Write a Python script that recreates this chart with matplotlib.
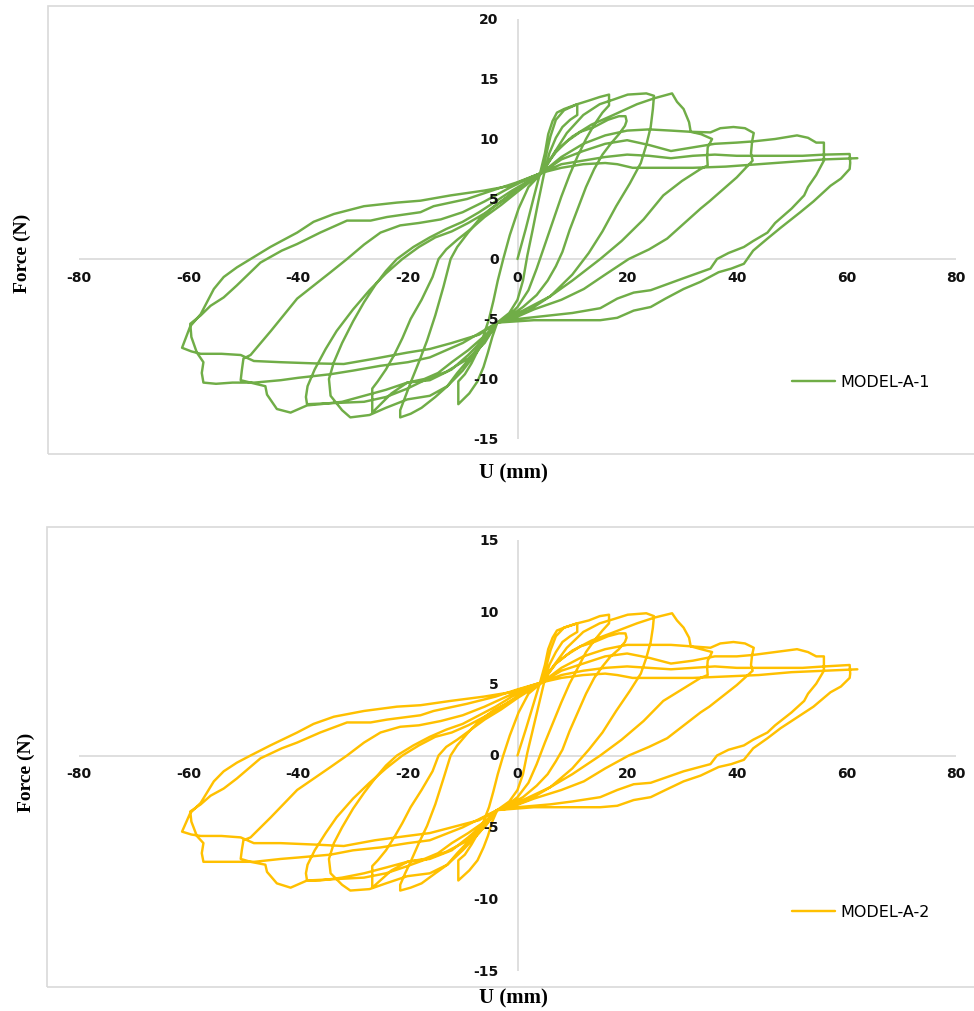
import matplotlib
matplotlib.use("Agg")
import matplotlib.pyplot as plt
from matplotlib.patches import Rectangle

# ---------------- data: (U mm, Force N) points of each loading cycle ----------------
A1_CYCLE_1 = [(0,0),(1.5,2.5),(3.0,5.2),(4.2,7.3),(5.0,8.8),(5.6,10.4),(6.4,11.5),(7.2,12.2),(8.5,12.5),(10.9,12.9),
              (10.9,12.0),(9.6,11.6),(8.2,11.0),(7.0,10.1),(5.8,8.8),(4.8,7.0),(3.8,4.8),(2.8,2.5),(1.8,0.3),(1.0,-1.8),
              (0.0,-3.4),(-1.5,-4.5),(-3.7,-5.3),(-4.6,-6.5),(-5.4,-7.8),(-6.2,-9.0),(-7.3,-10.2),(-8.8,-11.2),(-10.8,-12.1),
              (-10.8,-10.2),(-9.6,-9.6),(-8.4,-8.7),(-7.2,-7.6),(-6.2,-6.4),(-5.2,-5.0),(-4.4,-3.5),(-3.6,-1.8),(-2.6,0.0),
              (-1.4,2.0),(0.2,4.2),(2.0,6.0),(4.5,7.2)]
A1_CYCLE_2 = [(4.5,7.2),(5.2,8.6),(6.0,10.2),(7.0,11.6),(8.5,12.4),(10.9,12.9),(13.0,13.2),(15.0,13.5),(16.7,13.7),
              (16.7,12.8),(15.5,12.2),(14.0,11.2),(12.5,10.0),(11.0,8.6),(9.5,7.0),(8.0,5.2),(6.5,3.2),(5.0,1.2),(3.5,-0.8),
              (2.0,-2.6),(0.0,-4.0),(-2.0,-4.9),(-3.7,-5.3),(-5.5,-6.5),(-7.5,-7.6),(-9.5,-8.7),(-11.0,-9.5),(-12.8,-10.6),
              (-15.0,-11.5),(-17.5,-12.4),(-19.5,-12.9),(-21.4,-13.2),(-21.4,-12.6),(-20.5,-11.5),(-19.5,-10.3),(-18.0,-8.6),
              (-16.5,-6.8),(-15.0,-4.7),(-13.5,-2.3),(-12.2,0.0),(-11.0,1.0),(-9.0,2.2),(-7.0,3.3),(-4.5,4.3),(-2.0,5.1),
              (0.5,5.9),(2.5,6.6),(4.5,7.2)]
A1_CYCLE_3 = [(4.5,7.2),(5.5,8.0),(7.0,8.9),(9.0,9.8),(11.5,10.6),(14.0,11.0),(16.5,11.6),(18.5,11.9),(19.7,11.9),
              (19.9,11.5),(19.6,11.1),(18.5,10.4),(17.0,9.6),(15.5,8.7),(14.0,7.5),(12.5,6.0),(11.0,4.2),(9.5,2.4),(8.2,0.6),
              (7.0,-0.6),(5.5,-1.8),(3.5,-3.0),(1.0,-4.0),(-1.5,-4.8),(-3.7,-5.3),(-6.0,-6.4),(-9.0,-7.6),(-12.0,-8.6),
              (-14.5,-9.5),(-17.0,-10.0),(-20.1,-10.3),(-23.0,-11.2),(-26.5,-12.8),(-26.5,-10.8),(-25.5,-10.2),(-24.0,-9.2),
              (-22.5,-8.0),(-21.0,-6.6),(-19.5,-5.0),(-17.5,-3.4),(-15.5,-1.5),(-14.4,0.0),(-13.0,0.8),(-11.0,1.6),(-8.5,2.5),
              (-6.0,3.5),(-3.0,4.5),(0.0,5.6),(2.5,6.5),(4.5,7.2)]
A1_CYCLE_4 = [(4.5,7.2),(6.5,8.7),(9.0,10.5),(12.0,12.0),(15.0,12.9),(17.6,13.3),(20.1,13.7),(23.5,13.8),(24.9,13.6),
              (24.7,12.5),(24.3,11.0),(23.5,9.5),(22.5,8.0),(20.5,6.3),(18.0,4.4),(15.5,2.3),(13.0,0.5),(10.0,-1.3),(6.0,-3.1),
              (2.0,-4.3),(-1.0,-4.9),(-3.7,-5.3),(-7.0,-7.5),(-10.0,-9.3),(-12.8,-10.6),(-16.0,-11.4),(-20.1,-11.7),(-24.0,-12.4),
              (-27.0,-13.0),(-30.5,-13.2),(-32.0,-12.6),(-34.1,-11.4),(-34.4,-10.0),(-33.5,-8.6),(-32.0,-7.0),(-30.0,-5.2),
              (-28.0,-3.6),(-26.0,-2.2),(-24.0,-1.0),(-22.0,0.0),(-19.0,1.0),(-16.0,1.8),(-13.0,2.5),(-10.0,3.1),(-7.0,3.9),
              (-4.0,4.8),(-1.0,5.7),(2.0,6.5),(4.5,7.2)]
A1_CYCLE_5 = [(4.5,7.2),(7.0,9.0),(10.0,10.2),(13.5,11.2),(17.0,11.9),(21.8,12.9),(25.0,13.4),(28.2,13.8),(29.1,13.1),
              (30.3,12.5),(31.3,11.4),(31.6,10.6),(35.2,10.55),(37.0,10.9),(39.4,11.0),(41.5,10.9),(43.1,10.5),(42.8,9.8),
              (42.6,8.8),(42.9,8.2),(40.0,6.8),(37.0,5.6),(35.0,4.8),(33.4,4.2),(30.0,2.8),(27.3,1.7),(24.0,0.8),(20.3,0.0),
              (16.0,-1.3),(12.1,-2.5),(8.0,-3.4),(3.0,-4.2),(-0.5,-4.9),(-3.7,-5.3),(-6.0,-6.6),(-9.0,-8.0),(-12.0,-9.2),
              (-16.0,-10.1),(-20.1,-10.3),(-24.0,-10.9),(-28.0,-11.4),(-32.0,-11.9),(-36.0,-12.1),(-38.4,-12.2),(-41.4,-12.8),
              (-43.9,-12.5),(-45.7,-11.3),(-46.0,-10.6),(-48.7,-10.3),(-50.5,-10.1),(-50.3,-9.3),(-50.0,-8.3),(-48.7,-8.0),
              (-45.0,-6.0),(-40.2,-3.3),(-34.1,-1.1),(-31.1,0.0),(-28.0,1.2),(-25.0,2.2),(-21.4,2.8),(-18.0,3.0),(-14.0,3.3),
              (-10.0,3.9),(-6.0,4.8),(-2.0,5.8),(1.5,6.6),(4.5,7.2)]
A1_CYCLE_6 = [(4.5,7.2),(8.0,8.5),(12.0,9.6),(16.0,10.3),(20.0,10.7),(24.0,10.8),(28.0,10.7),(31.6,10.6),(33.5,10.4),
              (35.5,10.0),(34.7,9.3),(34.6,8.5),(34.7,7.8),(33.4,7.5),(30.0,6.5),(26.6,5.3),(23.0,3.3),(19.0,1.5),(15.1,0.0),
              (10.0,-1.8),(6.0,-3.1),(1.0,-4.3),(-3.7,-5.3),(-6.0,-7.0),(-9.0,-8.3),(-13.0,-9.4),(-16.5,-10.0),(-20.1,-10.8),
              (-24.0,-11.5),(-28.0,-11.9),(-33.0,-12.0),(-38.4,-12.1),(-38.6,-11.5),(-38.3,-10.6),(-37.0,-9.2),(-35.0,-7.5),
              (-33.0,-6.0),(-30.0,-4.2),(-27.0,-2.6),(-24.0,-1.2),(-21.0,0.0),(-18.0,1.0),(-15.0,1.8),(-12.0,2.3),(-9.0,3.0),
              (-6.0,3.8),(-3.0,4.8),(0.0,5.8),(2.5,6.6),(4.5,7.2)]
A1_CYCLE_7 = [(4.5,7.2),(8.0,8.3),(12.0,9.0),(16.0,9.6),(20.0,9.9),(24.0,9.5),(28.0,9.0),(32.0,9.3),(36.0,9.6),(40.0,9.7),
              (43.0,9.8),(47.0,10.0),(51.0,10.3),(53.0,10.1),(54.5,9.7),(55.9,9.7),(55.9,8.9),(55.9,8.2),(54.5,7.0),(53.0,6.0),
              (52.3,5.3),(50.0,4.2),(47.0,3.0),(45.6,2.2),(43.0,1.5),(41.3,1.0),(38.5,0.5),(36.4,0.0),(35.2,-0.8),(30.3,-1.6),
              (24.3,-2.6),(21.2,-2.8),(18.2,-3.3),(15.1,-4.1),(10.0,-4.5),(6.0,-4.7),(0.0,-5.0),(-3.7,-5.3),(-10.0,-7.0),
              (-16.0,-8.2),(-20.0,-8.6),(-25.0,-8.9),(-30.0,-9.3),(-34.1,-9.6),(-40.0,-9.9),(-43.2,-10.1),(-48.0,-10.3),
              (-52.0,-10.3),(-55.0,-10.4),(-57.3,-10.3),(-57.6,-9.5),(-57.3,-8.6),(-58.5,-7.8),(-59.5,-6.5),(-59.7,-5.4),
              (-57.8,-4.7),(-56.0,-3.9),(-53.6,-3.2),(-51.2,-2.2),(-46.9,-0.3),(-43.0,0.7),(-40.2,1.25),(-36.0,2.2),(-31.1,3.2),
              (-26.8,3.2),(-23.8,3.5),(-17.7,3.9),(-15.3,4.4),(-9.2,5.0),(-4.0,5.8),(0.0,6.4),(4.5,7.2)]
A1_CYCLE_8 = [(4.5,7.2),(8.0,7.9),(12.0,8.2),(16.0,8.5),(20.0,8.7),(24.0,8.6),(28.0,8.4),(32.0,8.6),(36.0,8.7),(40.0,8.6),
              (44.0,8.6),(48.0,8.6),(52.0,8.6),(56.0,8.7),(60.6,8.75),(60.7,8.0),(60.6,7.5),(59.0,6.7),(57.1,6.1),(54.0,4.8),
              (51.6,3.9),(48.0,2.6),(45.6,1.7),(43.0,0.7),(41.3,-0.4),(39.0,-0.8),(36.7,-1.1),(33.4,-1.9),(30.3,-2.5),(27.0,-3.3),
              (24.3,-4.0),(21.2,-4.3),(18.2,-4.9),(15.1,-5.1),(10.0,-5.1),(3.0,-5.1),(-3.7,-5.3),(-7.0,-6.3),(-12.0,-7.0),
              (-16.0,-7.5),(-20.1,-7.8),(-26.0,-8.3),(-31.7,-8.75),(-37.0,-8.7),(-43.2,-8.6),(-48.1,-8.5),(-50.5,-8.0),
              (-54.0,-7.9),(-57.8,-7.9),(-59.5,-7.7),(-61.2,-7.4),(-59.7,-5.6),(-57.8,-4.6),(-55.4,-2.5),(-53.6,-1.5),
              (-51.2,-0.7),(-48.7,0.0),(-45.1,1.0),(-40.2,2.2),(-37.2,3.1),(-33.5,3.75),(-28.0,4.4),(-22.0,4.7),(-17.7,4.86),
              (-12.2,5.3),(-6.1,5.7),(-1.3,6.1),(2.9,6.9),(4.5,7.2)]
A1_CYCLE_9 = [(4.5,7.2),(8.0,7.6),(12.0,7.9),(16.0,8.0),(18.2,7.9),(21.0,7.6),(26.0,7.6),(32.0,7.6),(38.0,7.7),(44.0,7.9),
              (50.0,8.1),(56.0,8.3),(62.0,8.4)]

A2_CYCLE_1 = [(0,0),(1.5,1.8),(3.0,3.7),(4.2,5.2),(5.0,6.3),(5.6,7.4),(6.4,8.2),(7.2,8.7),(8.5,8.9),(10.9,9.2),
              (10.9,8.6),(9.6,8.3),(8.2,7.9),(7.0,7.2),(5.8,6.3),(4.8,5.0),(3.8,3.4),(2.8,1.8),(1.8,0.2),(1.0,-1.3),
              (0.0,-2.4),(-1.5,-3.2),(-3.7,-3.8),(-4.6,-4.6),(-5.4,-5.6),(-6.2,-6.4),(-7.3,-7.3),(-8.8,-8.0),(-10.8,-8.7),
              (-10.8,-7.3),(-9.6,-6.9),(-8.4,-6.2),(-7.2,-5.4),(-6.2,-4.6),(-5.2,-3.6),(-4.4,-2.5),(-3.6,-1.3),(-2.6,0.0),
              (-1.4,1.4),(0.2,3.0),(2.0,4.3),(4.5,5.1)]
A2_CYCLE_2 = [(4.5,5.1),(5.2,6.1),(6.0,7.3),(7.0,8.3),(8.5,8.9),(10.9,9.2),(13.0,9.4),(15.0,9.7),(16.7,9.8),
              (16.7,9.2),(15.5,8.7),(14.0,8.0),(12.5,7.2),(11.0,6.1),(9.5,5.0),(8.0,3.7),(6.5,2.3),(5.0,0.9),(3.5,-0.6),
              (2.0,-1.9),(0.0,-2.9),(-2.0,-3.5),(-3.7,-3.8),(-5.5,-4.6),(-7.5,-5.4),(-9.5,-6.2),(-11.0,-6.8),(-12.8,-7.6),
              (-15.0,-8.2),(-17.5,-8.9),(-19.5,-9.2),(-21.4,-9.4),(-21.4,-9.0),(-20.5,-8.2),(-19.5,-7.4),(-18.0,-6.1),
              (-16.5,-4.9),(-15.0,-3.4),(-13.5,-1.6),(-12.2,0.0),(-11.0,0.7),(-9.0,1.6),(-7.0,2.4),(-4.5,3.1),(-2.0,3.6),
              (0.5,4.2),(2.5,4.7),(4.5,5.1)]
A2_CYCLE_3 = [(4.5,5.1),(5.5,5.7),(7.0,6.4),(9.0,7.0),(11.5,7.6),(14.0,7.9),(16.5,8.3),(18.5,8.5),(19.7,8.5),
              (19.9,8.2),(19.6,7.9),(18.5,7.4),(17.0,6.9),(15.5,6.2),(14.0,5.4),(12.5,4.3),(11.0,3.0),(9.5,1.7),(8.2,0.4),
              (7.0,-0.4),(5.5,-1.3),(3.5,-2.1),(1.0,-2.9),(-1.5,-3.4),(-3.7,-3.8),(-6.0,-4.6),(-9.0,-5.4),(-12.0,-6.1),
              (-14.5,-6.8),(-17.0,-7.2),(-20.1,-7.4),(-23.0,-8.0),(-26.5,-9.2),(-26.5,-7.7),(-25.5,-7.3),(-24.0,-6.6),
              (-22.5,-5.7),(-21.0,-4.7),(-19.5,-3.6),(-17.5,-2.4),(-15.5,-1.1),(-14.4,0.0),(-13.0,0.6),(-11.0,1.1),(-8.5,1.8),
              (-6.0,2.5),(-3.0,3.2),(0.0,4.0),(2.5,4.6),(4.5,5.1)]
A2_CYCLE_4 = [(4.5,5.1),(6.5,6.2),(9.0,7.5),(12.0,8.6),(15.0,9.2),(17.6,9.5),(20.1,9.8),(23.5,9.9),(24.9,9.7),
              (24.7,8.9),(24.3,7.9),(23.5,6.8),(22.5,5.7),(20.5,4.5),(18.0,3.1),(15.5,1.6),(13.0,0.4),(10.0,-0.9),(6.0,-2.2),
              (2.0,-3.1),(-1.0,-3.5),(-3.7,-3.8),(-7.0,-5.4),(-10.0,-6.6),(-12.8,-7.6),(-16.0,-8.2),(-20.1,-8.4),(-24.0,-8.9),
              (-27.0,-9.3),(-30.5,-9.4),(-32.0,-9.0),(-34.1,-8.2),(-34.4,-7.2),(-33.5,-6.1),(-32.0,-5.0),(-30.0,-3.7),
              (-28.0,-2.6),(-26.0,-1.6),(-24.0,-0.7),(-22.0,0.0),(-19.0,0.7),(-16.0,1.3),(-13.0,1.8),(-10.0,2.2),(-7.0,2.8),
              (-4.0,3.4),(-1.0,4.1),(2.0,4.6),(4.5,5.1)]
A2_CYCLE_5 = [(4.5,5.1),(7.0,6.4),(10.0,7.3),(13.5,8.0),(17.0,8.5),(21.8,9.2),(25.0,9.6),(28.2,9.9),(29.1,9.4),
              (30.3,8.9),(31.3,8.2),(31.6,7.6),(35.2,7.5),(37.0,7.8),(39.4,7.9),(41.5,7.8),(43.1,7.5),(42.8,7.0),
              (42.6,6.3),(42.9,5.9),(40.0,4.9),(37.0,4.0),(35.0,3.4),(33.4,3.0),(30.0,2.0),(27.3,1.2),(24.0,0.6),(20.3,0.0),
              (16.0,-0.9),(12.1,-1.8),(8.0,-2.4),(3.0,-3.0),(-0.5,-3.5),(-3.7,-3.8),(-6.0,-4.7),(-9.0,-5.7),(-12.0,-6.6),
              (-16.0,-7.2),(-20.1,-7.4),(-24.0,-7.8),(-28.0,-8.2),(-32.0,-8.5),(-36.0,-8.7),(-38.4,-8.7),(-41.4,-9.2),
              (-43.9,-8.9),(-45.7,-8.1),(-46.0,-7.6),(-48.7,-7.4),(-50.5,-7.2),(-50.3,-6.6),(-50.0,-5.9),(-48.7,-5.7),
              (-45.0,-4.3),(-40.2,-2.4),(-34.1,-0.8),(-31.1,0.0),(-28.0,0.9),(-25.0,1.6),(-21.4,2.0),(-18.0,2.1),(-14.0,2.4),
              (-10.0,2.8),(-6.0,3.4),(-2.0,4.1),(1.5,4.7),(4.5,5.1)]
A2_CYCLE_6 = [(4.5,5.1),(8.0,6.1),(12.0,6.9),(16.0,7.4),(20.0,7.7),(24.0,7.7),(28.0,7.7),(31.6,7.6),(33.5,7.4),
              (35.5,7.2),(34.7,6.6),(34.6,6.1),(34.7,5.6),(33.4,5.4),(30.0,4.6),(26.6,3.8),(23.0,2.4),(19.0,1.1),(15.1,0.0),
              (10.0,-1.3),(6.0,-2.2),(1.0,-3.1),(-3.7,-3.8),(-6.0,-5.0),(-9.0,-5.9),(-13.0,-6.7),(-16.5,-7.2),(-20.1,-7.7),
              (-24.0,-8.2),(-28.0,-8.5),(-33.0,-8.6),(-38.4,-8.7),(-38.6,-8.2),(-38.3,-7.6),(-37.0,-6.6),(-35.0,-5.4),
              (-33.0,-4.3),(-30.0,-3.0),(-27.0,-1.9),(-24.0,-0.9),(-21.0,0.0),(-18.0,0.7),(-15.0,1.3),(-12.0,1.6),(-9.0,2.1),
              (-6.0,2.7),(-3.0,3.4),(0.0,4.1),(2.5,4.7),(4.5,5.1)]
A2_CYCLE_7 = [(4.5,5.1),(8.0,5.9),(12.0,6.4),(16.0,6.9),(20.0,7.1),(24.0,6.8),(28.0,6.4),(32.0,6.6),(36.0,6.9),(40.0,6.9),
              (43.0,7.0),(47.0,7.2),(51.0,7.4),(53.0,7.2),(54.5,6.9),(55.9,6.9),(55.9,6.4),(55.9,5.9),(54.5,5.0),(53.0,4.3),
              (52.3,3.8),(50.0,3.0),(47.0,2.1),(45.6,1.6),(43.0,1.1),(41.3,0.7),(38.5,0.4),(36.4,0.0),(35.2,-0.6),(30.3,-1.1),
              (24.3,-1.9),(21.2,-2.0),(18.2,-2.4),(15.1,-2.9),(10.0,-3.2),(6.0,-3.4),(0.0,-3.6),(-3.7,-3.8),(-10.0,-5.0),
              (-16.0,-5.9),(-20.0,-6.1),(-25.0,-6.4),(-30.0,-6.6),(-34.1,-6.9),(-40.0,-7.1),(-43.2,-7.2),(-48.0,-7.4),
              (-52.0,-7.4),(-55.0,-7.4),(-57.3,-7.4),(-57.6,-6.8),(-57.3,-6.1),(-58.5,-5.6),(-59.5,-4.6),(-59.7,-3.9),
              (-57.8,-3.4),(-56.0,-2.8),(-53.6,-2.3),(-51.2,-1.6),(-46.9,-0.2),(-43.0,0.5),(-40.2,0.9),(-36.0,1.6),(-31.1,2.3),
              (-26.8,2.3),(-23.8,2.5),(-17.7,2.8),(-15.3,3.1),(-9.2,3.6),(-4.0,4.1),(0.0,4.6),(4.5,5.1)]
A2_CYCLE_8 = [(4.5,5.1),(8.0,5.6),(12.0,5.9),(16.0,6.1),(20.0,6.2),(24.0,6.1),(28.0,6.0),(32.0,6.1),(36.0,6.2),(40.0,6.1),
              (44.0,6.1),(48.0,6.1),(52.0,6.1),(56.0,6.2),(60.6,6.3),(60.7,5.7),(60.6,5.4),(59.0,4.8),(57.1,4.4),(54.0,3.4),
              (51.6,2.8),(48.0,1.9),(45.6,1.2),(43.0,0.5),(41.3,-0.3),(39.0,-0.6),(36.7,-0.8),(33.4,-1.4),(30.3,-1.8),(27.0,-2.4),
              (24.3,-2.9),(21.2,-3.1),(18.2,-3.5),(15.1,-3.6),(10.0,-3.6),(3.0,-3.6),(-3.7,-3.8),(-7.0,-4.5),(-12.0,-5.0),
              (-16.0,-5.4),(-20.1,-5.6),(-26.0,-5.9),(-31.7,-6.3),(-37.0,-6.2),(-43.2,-6.1),(-48.1,-6.1),(-50.5,-5.7),
              (-54.0,-5.6),(-57.8,-5.6),(-59.5,-5.5),(-61.2,-5.3),(-59.7,-4.0),(-57.8,-3.3),(-55.4,-1.8),(-53.6,-1.1),
              (-51.2,-0.5),(-48.7,0.0),(-45.1,0.7),(-40.2,1.6),(-37.2,2.2),(-33.5,2.7),(-28.0,3.1),(-22.0,3.4),(-17.7,3.5),
              (-12.2,3.8),(-6.1,4.1),(-1.3,4.4),(2.9,4.9),(4.5,5.1)]
A2_CYCLE_9 = [(4.5,5.1),(8.0,5.4),(12.0,5.6),(16.0,5.7),(18.2,5.6),(21.0,5.4),(26.0,5.4),(32.0,5.4),(38.0,5.5),(44.0,5.6),
              (50.0,5.8),(56.0,5.9),(62.0,6.0)]

X_TICKS = [-80, -60, -40, -20, 0, 20, 40, 60, 80]
Y_TICKS_A1 = [-15, -10, -5, 0, 5, 10, 15, 20]
Y_TICKS_A2 = [-15, -10, -5, 0, 5, 10, 15]
SERIES_NAMES = ["MODEL-A-1", "MODEL-A-2"]
X_TITLE = "U (mm)"
Y_TITLE = "Force (N)"

A1_CYCLES = [A1_CYCLE_1, A1_CYCLE_2, A1_CYCLE_3, A1_CYCLE_4, A1_CYCLE_5,
             A1_CYCLE_6, A1_CYCLE_7, A1_CYCLE_8, A1_CYCLE_9]
A2_CYCLES = [A2_CYCLE_1, A2_CYCLE_2, A2_CYCLE_3, A2_CYCLE_4, A2_CYCLE_5,
             A2_CYCLE_6, A2_CYCLE_7, A2_CYCLE_8, A2_CYCLE_9]

# ---------------- layout ----------------
W, H = 974, 1012
fig = plt.figure(figsize=(W / 100, H / 100), dpi=100)
fig.patch.set_facecolor("white")


def fx(px):
    return px / W


def fy(py):
    return 1 - py / H


GRID = "#D9D9D9"


def panel(cycles, color, name, yticks, top_py, bot_py, box, legend_py, ytitle_xy, xtitle_py):
    ax = fig.add_axes([fx(79), fy(bot_py), (956 - 79) / W, (bot_py - top_py) / H])
    ax.set_xlim(X_TICKS[0], X_TICKS[-1])
    ax.set_ylim(yticks[0], yticks[-1])
    ax.axis("off")
    ax.axhline(0, color=GRID, lw=1.2, zorder=1)
    ax.axvline(0, color=GRID, lw=1.2, zorder=1)

    us = [p[0] for c in cycles for p in c]
    fs = [p[1] for c in cycles for p in c]
    line, = ax.plot(us, fs, color=color, lw=1.75, solid_joinstyle="round",
                    solid_capstyle="round", zorder=3, label=name)

    for t in X_TICKS:
        ax.annotate(f"{t:g}", (t, 0), xytext=(0, -18), textcoords="offset pixels",
                    ha="center", va="center", fontsize=10, fontweight="bold",
                    color="#111111", annotation_clip=False, zorder=4)
    for t in yticks:
        ax.annotate(f"{t:g}", (0, t), xytext=(-19, 0), textcoords="offset pixels",
                    ha="right", va="center", fontsize=10, fontweight="bold",
                    color="#111111", annotation_clip=False, zorder=4)

    x0, y0, x1, y1 = box
    fig.patches.append(Rectangle((fx(x0), fy(y1)), fx(x1) - fx(x0), fy(y0) - fy(y1),
                                 transform=fig.transFigure, fill=False,
                                 edgecolor=GRID, lw=1.2))

    ax.legend(handles=[line], loc="center left",
              bbox_to_anchor=(fx(792), fy(legend_py)), bbox_transform=fig.transFigure,
              frameon=False, borderpad=0, borderaxespad=0, handlelength=2.7,
              handletextpad=0.3, prop={"size": 11.5})

    fig.text(fx(ytitle_xy[0]), fy(ytitle_xy[1]), Y_TITLE, rotation=90, ha="center",
             va="center", family="Liberation Serif", fontweight="bold", fontsize=14)
    fig.text(fx(513), fy(xtitle_py), X_TITLE, ha="center", va="center",
             family="Liberation Serif", fontweight="bold", fontsize=15)
    return ax


panel(A1_CYCLES, "#70AD47", SERIES_NAMES[0], Y_TICKS_A1, 20, 440,
      (48, 7, 990, 455), 383, (22, 253), 473)
panel(A2_CYCLES, "#FFC000", SERIES_NAMES[1], Y_TICKS_A2, 541, 972,
      (47, 528, 990, 988), 913, (26, 772), 998)

fig.savefig("out.png", dpi=100, facecolor="white")
